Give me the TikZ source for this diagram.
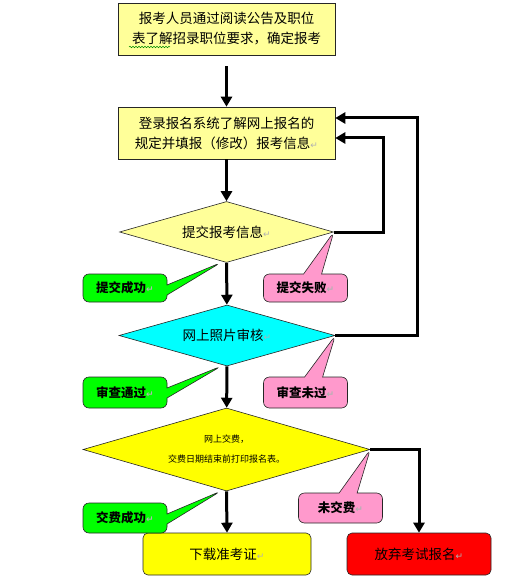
\documentclass[tikz,border=0pt]{standalone}
\usepackage{fontspec}
\setmainfont{Noto Sans CJK SC}
\newfontfamily\dvfont{DejaVu Sans}
\usetikzlibrary{shapes.geometric,shapes.callouts,arrows.meta,decorations.pathmorphing}
\definecolor{lyellow}{HTML}{FFFF99}
\definecolor{cyellow}{HTML}{FFFF00}
\definecolor{ccyan}{HTML}{00FFFF}
\definecolor{cgreen}{HTML}{00FF00}
\definecolor{cpink}{HTML}{FF99CC}
\definecolor{cred}{HTML}{FF0000}
\newcommand\retmark{{\dvfont\fontsize{9}{9}\selectfont\color{gray!60}↵}}
\begin{document}
\begin{tikzpicture}[x=1pt,y=-1pt,
  outl/.style={draw=black!85, line width=0.6pt},
  box/.style={outl, fill=lyellow, minimum width=217pt, minimum height=52pt, inner sep=0pt, align=center, font=\fontsize{13.5}{20}\selectfont},
  dia/.style={diamond, outl, inner sep=0pt, align=center, shape aspect=3.5, font=\fontsize{13.5}{20}\selectfont},
  endbox/.style={outl, rounded corners=5pt, minimum height=42pt, inner sep=0pt, font=\fontsize{13.5}{20}\selectfont},
  callbase/.style={rectangle callout, outl, rounded corners=6pt, minimum width=84pt, inner sep=0pt, font=\bfseries\fontsize{12.5}{14}\selectfont},
  callg/.style={callbase, fill=cgreen, callout pointer width=10pt},
  callp/.style={callbase, fill=cpink, callout pointer width=18pt},
  arr/.style={line width=3pt, -{Triangle[width=11pt,length=10pt]}}
]
\useasboundingbox (0,0) rectangle (527,577);

% boxes
\node[box] (b1) at (226.5,29) {报考人员通过阅读公告及职位\\表了解招录职位要求，确定报考};
\node[box] (b2) at (226.5,133) {登录报名系统了解网上报名的\\规定并填报（修改）报考信息\retmark};
\draw[green!55!black, line width=0.5pt, decorate, decoration={snake,amplitude=0.8pt,segment length=3pt}] (129,47) -- (170,47);

% diamonds
\node[dia, fill=lyellow, minimum width=214pt, minimum height=61pt] (d1) at (226.5,232) {提交报考信息\retmark};
\node[dia, fill=ccyan, minimum width=216pt, minimum height=61pt] (d2) at (227,335.5) {网上照片审核\retmark};
\node[dia, fill=cyellow, minimum width=287pt, minimum height=83pt, font=\fontsize{9}{20}\selectfont] (d3) at (226.5,449.5) {网上交费，\\交费日期结束前打印报名表。};

% end boxes
\node[endbox, fill=cyellow, minimum width=168pt] (dl) at (227,554) {下载准考证\retmark};
\node[endbox, fill=cred, minimum width=144pt] (fq) at (419,554) {放弃考试报名\retmark};

% connectors
\draw[arr, shorten <=11pt] (b1) -- (b2);
\draw[arr] (b2) -- (d1);
\draw[arr] (d1) -- (d2);
\draw[arr] (d2) -- (d3);
\draw[arr] (d3.south) -- (dl.north);
\coordinate (k1) at (383,138);
\coordinate (k2) at (417,118);
\draw[arr] (d1.east) -| (k1) -- (k1 -| b2.east);
\draw[arr] (d2.east) -| (k2) -- (k2 -| b2.east);
\draw[arr] (d3.east) -| (fq.north);

% callouts
\node[callg, minimum height=28pt, callout absolute pointer={([xshift=-6pt]d1.south)}] (g1) at (125,288) {提交成功\retmark};
\node[callp, minimum height=28pt, callout absolute pointer={(d1.east)}] (p1) at (305.5,288) {提交失败\retmark};
\node[callg, minimum height=31pt, callout absolute pointer={([xshift=-6pt]d2.south)}] (g2) at (125,392.5) {审查通过\retmark};
\node[callp, minimum height=31pt, callout absolute pointer={(d2.east)}] (p2) at (305.5,392.5) {审查未过\retmark};
\node[callp, minimum height=30pt, callout absolute pointer={(d3.east)}] (p3) at (340.5,508) {未交费\retmark};
\node[callg, minimum height=30pt, callout absolute pointer={([xshift=-6pt]d3.south)}] (g3) at (125,518) {交费成功\retmark};
\end{tikzpicture}
\end{document}
